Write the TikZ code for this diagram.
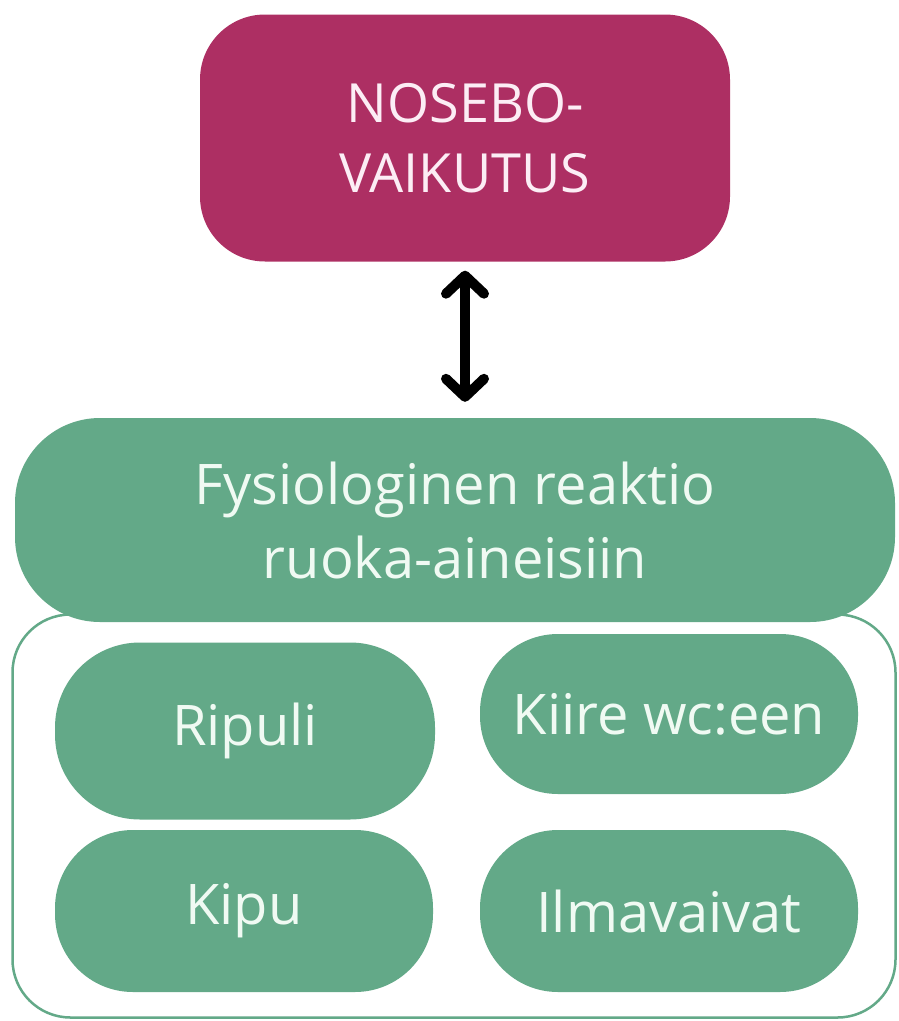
\documentclass[tikz,border=0pt]{standalone}
\usepackage{fontspec}
\setmainfont{Open Sans}
\usetikzlibrary{shapes,arrows.meta,positioning}
\definecolor{noseboRed}{HTML}{AD2F63}
\definecolor{fysioGreen}{HTML}{63A988}
\definecolor{paleText}{HTML}{FCEDF5}
\definecolor{mintText}{HTML}{F0FAF3}
\tikzstyle{effect} = [rectangle, rounded corners=65pt, minimum width=530pt, minimum height=247pt, text centered, align=center, fill=noseboRed, text=paleText, font=\fontsize{54}{70}\selectfont]
\tikzstyle{reaction} = [rectangle, rounded corners=85pt, minimum width=880pt, minimum height=204pt, text centered, align=center, fill=fysioGreen, text=mintText, font=\fontsize{56}{74}\selectfont]
\tikzstyle{group} = [rectangle, rounded corners=58pt, minimum width=883pt, minimum height=403pt, draw=fysioGreen, line width=2.5pt, fill=white]
\tikzstyle{symptom} = [rectangle, rounded corners=78pt, minimum width=378pt, minimum height=162pt, text centered, fill=fysioGreen, text=mintText, font=\fontsize{56}{66}\selectfont]
\tikzstyle{arrow} = [line width=10pt, line cap=round, {Straight Barb[length=18pt, width=38pt, line cap=round, line join=round]}-{Straight Barb[length=18pt, width=38pt, line cap=round, line join=round]}]

\begin{document}
\begin{tikzpicture}[x=1pt, y=-1pt]
        \useasboundingbox (0,0) rectangle (899,1021);
        % Nosebo effect on top
        \node (nosebo) [effect] at (465,138) {NOSEBO-\\VAIKUTUS};
        
        % Frame for the symptoms, then the reaction over its top
        \node (frame) [group] at (454,816) {};
        \node (fysio) [reaction] at (455,520) {Fysiologinen reaktio\\ruoka-aineisiin};
        
        % Two-way link
        \draw [arrow, shorten <=9pt, shorten >=16pt] (nosebo.south) -- (nosebo.south |- fysio.north);
        
        % Symptoms
        \node (ripuli) [symptom, minimum height=177pt, rounded corners=85pt, minimum width=380pt] at (245,731) {Ripuli};
        \node (kiire) [symptom, minimum height=160pt] at (669,714) {Kiire wc:een};
        \node (kipu) [symptom] at (244,911) {Kipu};
        \node (ilma) [symptom] at (669,911) {Ilmavaivat};
    \end{tikzpicture}
\end{document}
